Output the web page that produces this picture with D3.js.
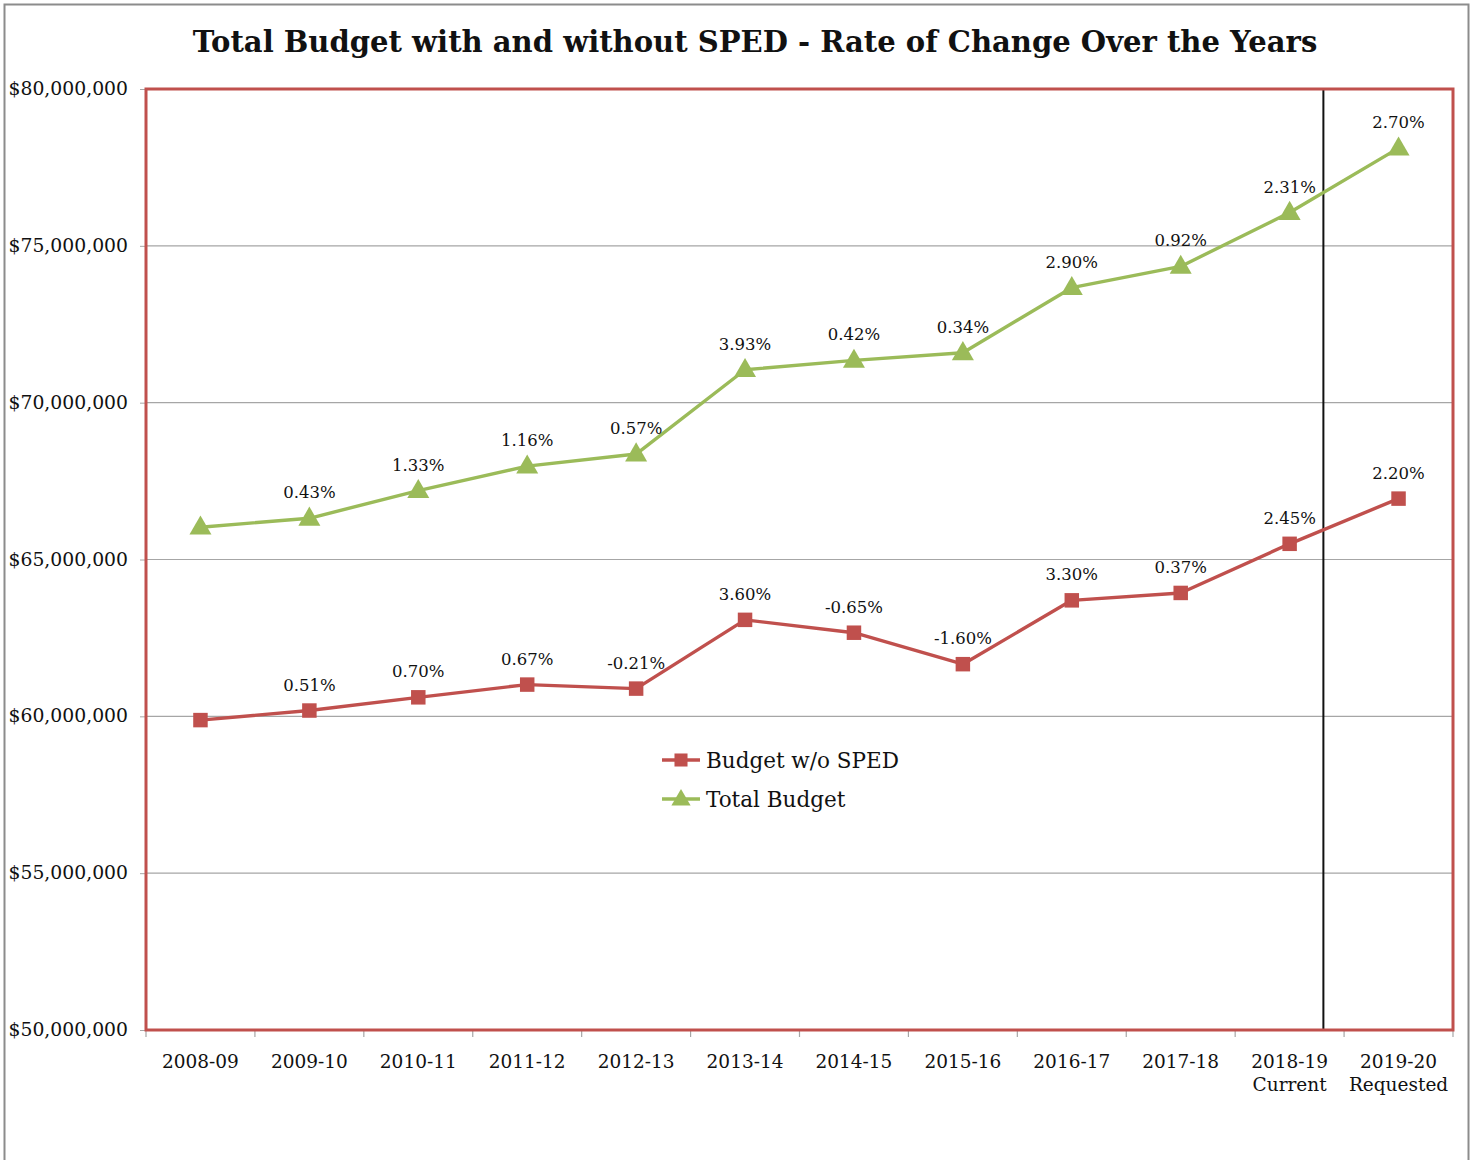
<!DOCTYPE html>
<html><head><meta charset="utf-8">
<script src="https://cdn.jsdelivr.net/npm/d3@7"></script>
<style>
html,body{margin:0;padding:0;background:#fff;}
svg{display:block;font-family:"DejaVu Serif","Liberation Serif",serif;}
</style></head>
<body><svg id="c" width="1475" height="1160"></svg>
<script>
const categories = ["2008-09","2009-10","2010-11","2011-12","2012-13","2013-14","2014-15","2015-16","2016-17","2017-18","2018-19\nCurrent","2019-20\nRequested"];
const totalBudget = [66030000,66314000,67196000,67975000,68362000,71049000,71347000,71590000,73666000,74343000,76060000,78114000];
const totalLabels = ["","0.43%","1.33%","1.16%","0.57%","3.93%","0.42%","0.34%","2.90%","0.92%","2.31%","2.70%"];
const budgetNoSped = [59880000,60185000,60606000,61012000,60884000,63076000,62666000,61663000,63698000,63934000,65500000,66941000];
const noSpedLabels = ["","0.51%","0.70%","0.67%","-0.21%","3.60%","-0.65%","-1.60%","3.30%","0.37%","2.45%","2.20%"];
const yTicks = [50000000,55000000,60000000,65000000,70000000,75000000,80000000];
const seriesNames = ["Budget w/o SPED","Total Budget"];
const title = "Total Budget with and without SPED - Rate of Change Over the Years";

const svg = d3.select("#c");
const RED = "#c0504d", GREEN = "#9bbb59";
const L = 146, R = 1453, T = 89, B = 1030;

// outer frame
svg.append("rect").attr("x",4.5).attr("y",4.5).attr("width",1464).attr("height",1170)
  .attr("fill","none").attr("stroke","#8c8c8c").attr("stroke-width",2);

const x = d3.scaleBand().domain(categories).range([L,R]).paddingInner(0).paddingOuter(0);
const y = d3.scaleLinear().domain([50000000,80000000]).range([B,T]);
const cx = d => x(d) + x.bandwidth()/2;

// gridlines
svg.append("g").selectAll("line").data(yTicks.slice(1,-1)).join("line")
  .attr("x1",L).attr("x2",R).attr("y1",d=>y(d)).attr("y2",d=>y(d))
  .attr("stroke","#a6a6a6").attr("stroke-width",1.2);

// y axis
const yAxis = svg.append("g").attr("transform",`translate(${L},0)`)
  .call(d3.axisLeft(y).tickValues(yTicks).tickSize(6).tickPadding(12)
    .tickFormat(d=>"$"+d3.format(",")(d)));
yAxis.select(".domain").remove();
yAxis.selectAll(".tick line").attr("stroke","#a6a6a6");
yAxis.selectAll(".tick text").attr("font-size",18.8).attr("fill","#111")
  .attr("font-family","DejaVu Serif").attr("dy","0.3em");

// x axis
const xAxis = svg.append("g").attr("transform",`translate(0,${B})`)
  .call(d3.axisBottom(x).tickSize(0).tickFormat(""));
xAxis.select(".domain").remove();
const bounds = categories.map(c=>x(c)).concat([R]);
svg.append("g").selectAll("line").data(bounds).join("line")
  .attr("x1",d=>d).attr("x2",d=>d).attr("y1",B).attr("y2",B+7)
  .attr("stroke","#a6a6a6").attr("stroke-width",1.2);
xAxis.selectAll(".tick").each(function(d){
  const t = d3.select(this).append("text").attr("fill","#111").attr("font-size",18.5)
    .attr("text-anchor","middle").attr("font-family","DejaVu Serif");
  d.split("\n").forEach((s,i)=>{
    t.append("tspan").attr("x",0).attr("y",38+i*23).text(s);
  });
});

// vertical divider between current and requested
const divX = cx(categories[10]) + x.bandwidth()*0.31;
svg.append("line").attr("x1",divX).attr("x2",divX).attr("y1",T).attr("y2",B)
  .attr("stroke","#111").attr("stroke-width",2);

// plot border
svg.append("rect").attr("x",L).attr("y",T).attr("width",R-L).attr("height",B-T)
  .attr("fill","none").attr("stroke",RED).attr("stroke-width",3);

const line = d3.line().x((d,i)=>cx(categories[i])).y(d=>y(d));

function drawSeries(vals, labels, color, shape){
  svg.append("path").datum(vals).attr("d",line).attr("fill","none")
    .attr("stroke",color).attr("stroke-width",3.4).attr("stroke-linejoin","round");
  const sym = d3.symbol().type(shape==="square"?d3.symbolSquare:d3.symbolTriangle)
    .size(shape==="square"?210:210);
  svg.append("g").selectAll("path").data(vals).join("path")
    .attr("d",sym).attr("fill",color)
    .attr("transform",(d,i)=>`translate(${cx(categories[i])},${y(d)+(shape==="square"?0:1)})`);
  svg.append("g").selectAll("text").data(vals).join("text")
    .attr("x",(d,i)=>cx(categories[i])).attr("y",d=>y(d)-20)
    .attr("text-anchor","middle").attr("font-size",16.5).attr("fill","#111")
    .text((d,i)=>labels[i]);
}
drawSeries(totalBudget, totalLabels, GREEN, "triangle");
drawSeries(budgetNoSped, noSpedLabels, RED, "square");

// legend
const leg = svg.append("g");
[[RED,"square",760],[GREEN,"triangle",799]].forEach(([c,s,ly],i)=>{
  leg.append("line").attr("x1",662).attr("x2",700).attr("y1",ly).attr("y2",ly)
    .attr("stroke",c).attr("stroke-width",3.4);
  leg.append("path").attr("d",d3.symbol().type(s==="square"?d3.symbolSquare:d3.symbolTriangle).size(s==="square"?170:160))
    .attr("fill",c).attr("transform",`translate(681,${ly+(s==="square"?0:1)})`);
  leg.append("text").attr("x",706).attr("y",ly+8).attr("font-size",21.5).attr("fill","#111")
    .text(seriesNames[i]);
});

// title, fitted to the reference width
const tt = svg.append("text").attr("x",755).attr("y",52).attr("text-anchor","middle")
  .attr("font-weight","bold").attr("font-size",30).attr("fill","#111").text(title);
const w = tt.node().getComputedTextLength();
tt.attr("font-size", 30*1125/w);
</script></body></html>
